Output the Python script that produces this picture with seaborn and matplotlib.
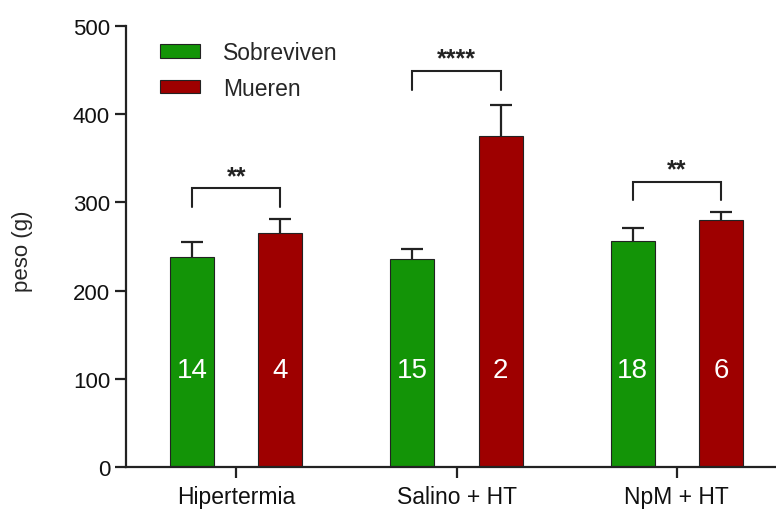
import matplotlib
matplotlib.use("Agg")
import matplotlib.pyplot as plt
import seaborn as sns
import pandas as pd
import numpy as np
from matplotlib.patches import Patch

categories = ["Hipertermia", "Salino + HT", "NpM + HT"]
groups = ["Sobreviven", "Mueren"]
sobreviven_mean = [238, 235.5, 256]
sobreviven_err = [17.5, 11.5, 15]
mueren_mean = [265, 375, 280]
mueren_err = [16.5, 35, 9.5]
n_sobreviven = ["14", "15", "18"]
n_mueren = ["4", "2", "6"]
sig_labels = ["**", "****", "**"]
bracket_top = [316, 449, 323.5]
bracket_bottom = [295, 427.5, 302.5]

colors = {"Sobreviven": "#139407", "Mueren": "#9e0000"}

df = pd.DataFrame({
    "grupo": categories * 2,
    "estado": ["Sobreviven"] * 3 + ["Mueren"] * 3,
    "peso": sobreviven_mean + mueren_mean,
})

sns.set_theme(style="ticks")
plt.rcParams["font.family"] = ["Liberation Sans", "DejaVu Sans"]

fig = plt.figure(figsize=(7.76, 5.10), dpi=100)
ax = fig.add_axes([126 / 776, 1 - 468 / 510, 650 / 776, 441 / 510])

sns.barplot(data=df, x="grupo", y="peso", hue="estado", order=categories,
            hue_order=groups, palette=colors, errorbar=None, width=0.8, gap=0.5,
            edgecolor="#222222", linewidth=0.8, saturation=1, ax=ax, legend=False)

bars = [p for p in ax.patches if p.get_width() > 0]
bars = sorted(bars, key=lambda p: p.get_x())
centers = [p.get_x() + p.get_width() / 2 for p in bars]
s_x = centers[0::2]
m_x = centers[1::2]

for xs, means, errs in [(s_x, sobreviven_mean, sobreviven_err), (m_x, mueren_mean, mueren_err)]:
    eb = ax.errorbar(xs, means, yerr=[np.zeros(3), errs], fmt="none",
                     ecolor="#222222", elinewidth=1.6, capsize=8, capthick=1.6, zorder=1)
    caplines = eb[1]
    if len(caplines) == 2:
        caplines[0].set_visible(False)
for p in bars:
    p.set_zorder(2)

for x, t in zip(s_x, n_sobreviven):
    ax.text(x, 110, t, color="white", ha="center", va="center", fontsize=20, zorder=3)
for x, t in zip(m_x, n_mueren):
    ax.text(x, 110, t, color="white", ha="center", va="center", fontsize=20, zorder=3)

for xs, xm, lab, yt, yb in zip(s_x, m_x, sig_labels, bracket_top, bracket_bottom):
    ax.plot([xs, xs, xm, xm], [yb, yt, yt, yb], color="#222222", lw=1.5,
            solid_joinstyle="miter")
    ax.text((xs + xm) / 2, yt + 14, lab, ha="center", va="center", fontsize=18,
            fontweight="bold", color="#222222")

ax.set_ylim(0, 500)
ax.set_xlim(-0.5, 2.45)
ax.set_yticks([0, 100, 200, 300, 400, 500])
ax.set_xlabel("")
ax.set_ylabel("peso (g)", fontsize=16)
ax.yaxis.set_label_coords(-0.143, 0.491)
sns.despine(ax=ax)
for s in ["left", "bottom"]:
    ax.spines[s].set_linewidth(1.6)
    ax.spines[s].set_color("#222222")
ax.tick_params(axis="both", direction="out", length=8, width=1.6, color="#222222",
               labelsize=16, labelcolor="#111111")
ax.tick_params(axis="x", pad=5, labelsize=16.5)

handles = [Patch(facecolor=colors[g], edgecolor="#222222", linewidth=0.8, label=g) for g in groups]
ax.legend(handles=handles, loc="upper left", bbox_to_anchor=(0.052, 0.966),
          frameon=False, fontsize=16.5, handlelength=1.75, handleheight=0.52,
          handletextpad=1.0, labelspacing=0.55, borderpad=0, borderaxespad=0)

fig.savefig("out.png", dpi=100)
